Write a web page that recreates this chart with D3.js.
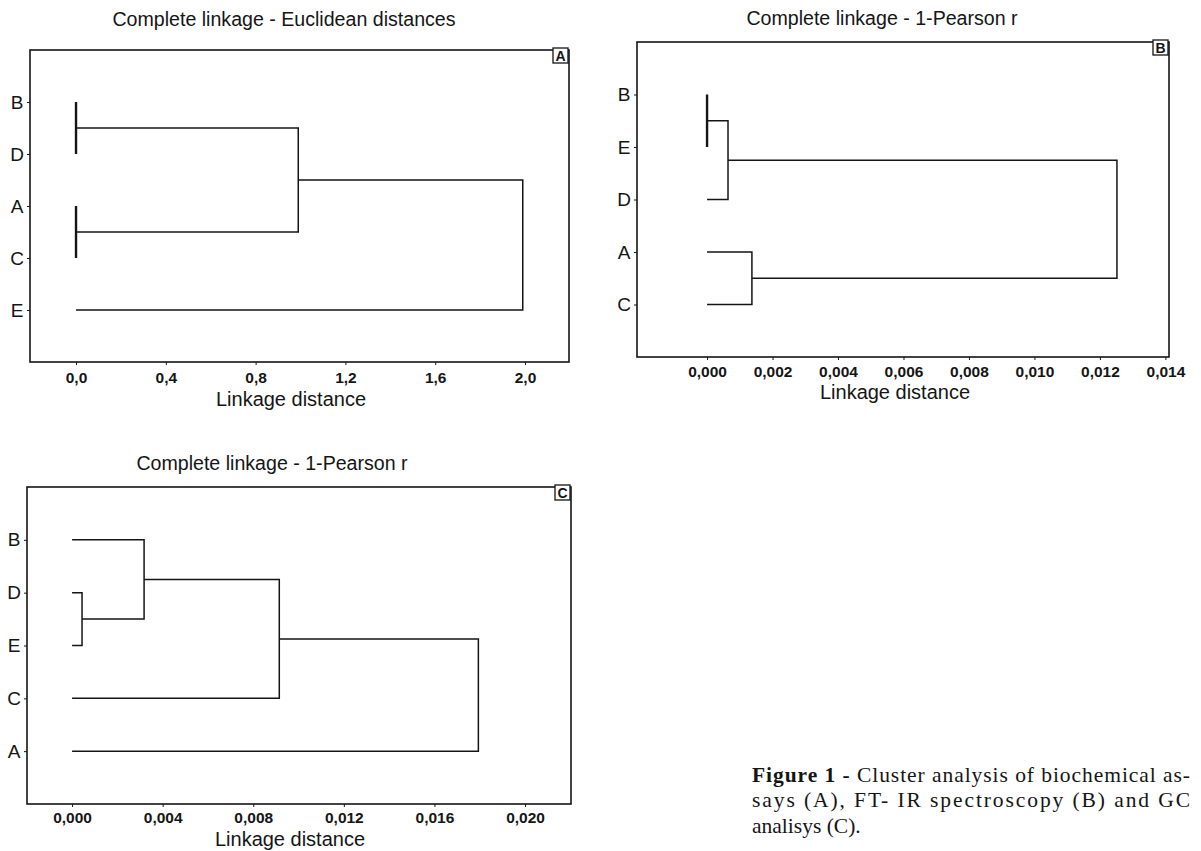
<!DOCTYPE html>
<html>
<head>
<meta charset="utf-8">
<script src="https://cdn.jsdelivr.net/npm/d3@7"></script>
<style>
  body { margin: 0; background: #fff; }
  svg { display: block; }
</style>
</head>
<body>
<div class="canvas"></div>
<script>
// Leaf order (top to bottom) and merges [childA, childB, height]
// child index < n is a leaf, >= n is the cluster formed by merge (index - n)
const leavesA = ["B", "D", "A", "C", "E"];
const mergesA = [[0, 1, 0.0], [2, 3, 0.0], [5, 6, 0.99], [7, 4, 1.99]];
const ticksA = [0, 0.4, 0.8, 1.2, 1.6, 2.0];

const leavesB = ["B", "E", "D", "A", "C"];
const mergesB = [[0, 1, 0.0], [5, 2, 0.00064], [3, 4, 0.00137], [6, 7, 0.01252]];
const ticksB = [0, 0.002, 0.004, 0.006, 0.008, 0.010, 0.012, 0.014];

const leavesC = ["B", "D", "E", "C", "A"];
const mergesC = [[1, 2, 0.00044], [0, 5, 0.00318], [6, 3, 0.00915], [7, 4, 0.01794]];
const ticksC = [0, 0.004, 0.008, 0.012, 0.016, 0.020];

const titles = [
  "Complete linkage - Euclidean distances",
  "Complete linkage - 1-Pearson r",
  "Complete linkage - 1-Pearson r"
];
const captionLines = [
  "Cluster analysis of biochemical as-",
  "says (A), FT- IR spectroscopy (B) and GC",
  "analisys (C)."
];

const locale = d3.formatLocale({ decimal: ",", thousands: ".", grouping: [3], currency: ["", ""] });

const svg = d3
  .select(".canvas")
  .append("svg")
  .attr("width", 1201)
  .attr("height", 851);

const ink = "#151515";
const sans = "'Liberation Sans', Arial, sans-serif";

const panels = [
  {
    tag: "A", title: titles[0], leaves: leavesA, merges: mergesA, ticks: ticksA,
    fmt: locale.format(".1f"), domain: [-0.205, 2.196],
    frame: { left: 30, top: 50, right: 569, bottom: 362 },
    titleX: 284, titleY: 26, tickY: 383, axisX: 291, axisY: 406
  },
  {
    tag: "B", title: titles[1], leaves: leavesB, merges: mergesB, ticks: ticksB,
    fmt: locale.format(".3f"), domain: [-0.00214, 0.01411],
    frame: { left: 637, top: 42, right: 1169, bottom: 357 },
    titleX: 882, titleY: 25, tickY: 377, axisX: 895, axisY: 399
  },
  {
    tag: "C", title: titles[2], leaves: leavesC, merges: mergesC, ticks: ticksC,
    fmt: locale.format(".3f"), domain: [-0.00199, 0.02203],
    frame: { left: 27, top: 487, right: 571, bottom: 804 },
    titleX: 272, titleY: 470, tickY: 823, axisX: 290, axisY: 846
  }
];

const drawPanel = (p) => {
  const f = p.frame;
  const g = svg.append("g");

  const x = d3.scaleLinear().domain(p.domain).range([f.left, f.right]);
  const y = d3.scalePoint().domain(p.leaves).range([f.top, f.bottom]).padding(1);

  // Title
  g.append("text")
    .attr("x", p.titleX)
    .attr("y", p.titleY)
    .attr("text-anchor", "middle")
    .attr("font-family", sans)
    .attr("font-size", 19.6)
    .attr("fill", ink)
    .text(p.title);

  // Frame
  g.append("rect")
    .attr("x", f.left)
    .attr("y", f.top)
    .attr("width", f.right - f.left)
    .attr("height", f.bottom - f.top)
    .attr("fill", "none")
    .attr("stroke", ink)
    .attr("stroke-width", 1.6);

  // Panel tag box
  g.append("rect")
    .attr("x", f.right - 16)
    .attr("y", f.top - 2)
    .attr("width", 15)
    .attr("height", 15)
    .attr("fill", "#fff")
    .attr("stroke", ink)
    .attr("stroke-width", 1.3);
  g.append("text")
    .attr("x", f.right - 8.5)
    .attr("y", f.top + 10.5)
    .attr("text-anchor", "middle")
    .attr("font-family", sans)
    .attr("font-weight", "bold")
    .attr("font-size", 14)
    .attr("fill", ink)
    .text(p.tag);

  // Bottom axis
  const xAxis = d3.axisBottom(x).tickValues(p.ticks).tickFormat(p.fmt).tickSize(3).tickPadding(4);
  const xg = g.append("g").attr("transform", `translate(0,${f.bottom})`).call(xAxis);
  xg.select(".domain").remove();
  xg.selectAll("line").attr("stroke", ink);
  xg.selectAll("text")
    .attr("y", null)
    .attr("dy", null)
    .attr("transform", `translate(0,${p.tickY - f.bottom})`)
    .attr("font-family", sans)
    .attr("font-weight", "bold")
    .attr("font-size", 15.5)
    .attr("fill", ink);

  // Left axis (leaf labels)
  const yAxis = d3.axisLeft(y).tickSize(3).tickPadding(0);
  const yg = g.append("g").attr("transform", `translate(${f.left},0)`).call(yAxis);
  yg.select(".domain").remove();
  yg.selectAll("line").attr("stroke", ink);
  yg.selectAll("text")
    .attr("x", -13)
    .attr("text-anchor", "middle")
    .attr("font-family", sans)
    .attr("font-size", 19)
    .attr("fill", ink);

  // Axis title
  g.append("text")
    .attr("x", p.axisX)
    .attr("y", p.axisY)
    .attr("text-anchor", "middle")
    .attr("font-family", sans)
    .attr("font-size", 20)
    .attr("fill", ink)
    .text("Linkage distance");

  // Dendrogram nodes
  const n = p.leaves.length;
  const nodes = p.leaves.map((d) => ({ h: 0, y: y(d) }));
  p.merges.forEach(([a, b, h]) => {
    nodes.push({ h, y: (nodes[a].y + nodes[b].y) / 2, a, b });
  });

  const links = nodes.slice(n);
  g.selectAll("path.link")
    .data(links)
    .enter()
    .append("path")
    .attr("class", "link")
    .attr("fill", "none")
    .attr("stroke", ink)
    .attr("stroke-width", (d) => (d.h === 0 ? 2.4 : 1.5))
    .attr("d", (d) => {
      const A = nodes[d.a];
      const B = nodes[d.b];
      const path = d3.path();
      path.moveTo(x(A.h), A.y);
      path.lineTo(x(d.h), A.y);
      path.lineTo(x(d.h), B.y);
      path.lineTo(x(B.h), B.y);
      return path.toString();
    });
};

panels.forEach(drawPanel);

// Figure caption
const cap = svg
  .append("g")
  .attr("font-family", "'Liberation Serif', 'Times New Roman', serif")
  .attr("font-size", 21.5)
  .attr("fill", ink);

const line1 = cap.append("text").attr("x", 752).attr("y", 782)
  .attr("textLength", 438).attr("lengthAdjust", "spacing");
line1.append("tspan").attr("font-weight", "bold").text("Figure 1 - ");
line1.append("tspan").text(captionLines[0]);

cap.append("text").attr("x", 752).attr("y", 807)
  .attr("textLength", 438).attr("lengthAdjust", "spacing")
  .text(captionLines[1]);

cap.append("text").attr("x", 752).attr("y", 833)
  .text(captionLines[2]);
</script>
</body>
</html>
